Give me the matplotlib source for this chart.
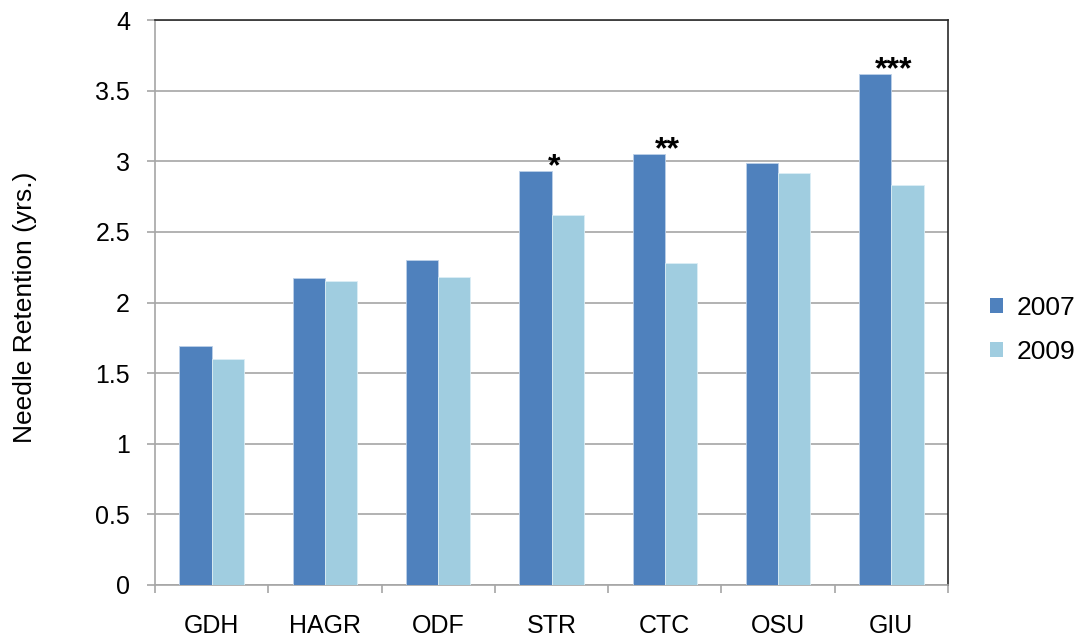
import numpy as np
import matplotlib.pyplot as plt
from matplotlib.patches import Patch

plt.rcParams['font.family'] = ['Liberation Sans', 'DejaVu Sans']

# needle retention by site, two survey years
sites = ['GDH', 'HAGR', 'ODF', 'STR', 'CTC', 'OSU', 'GIU']
ret_2007 = [1.69, 2.17, 2.30, 2.93, 3.05, 2.99, 3.62]
ret_2009 = [1.60, 2.15, 2.18, 2.62, 2.28, 2.92, 2.83]
signif = ['', '', '', '*', '**', '', '***']

c07 = '#4F81BD'
c09 = '#A0CDE0'

fig = plt.figure(figsize=(10.77, 6.38), dpi=100)
ax = fig.add_axes([155 / 1077, 1 - 585 / 638, 793 / 1077, 565 / 638])

x = np.arange(len(sites))
w = 0.284
ax.bar(x - w / 2, ret_2007, w, color=c07, edgecolor='#BCD0E8', linewidth=0.6, zorder=3)
ax.bar(x + w / 2, ret_2009, w, color=c09, edgecolor='#DCEEF5', linewidth=0.6, zorder=3)

# significance stars over the 2007 bars
for xi, v, s in zip(x, ret_2007, signif):
    if s:
        ax.annotate(s, (xi + 0.02, v), xytext=(0, -3), textcoords='offset points',
                    ha='center', va='baseline', fontsize=23, fontweight='bold')

ax.set_xlim(-0.5, len(sites) - 0.5)
ax.set_ylim(0, 4)
ax.set_yticks(np.arange(0, 4.01, 0.5))
ax.set_yticklabels(['0', '0.5', '1', '1.5', '2', '2.5', '3', '3.5', '4'])
ax.yaxis.grid(True, color='#A6A6A6', linewidth=1.2, zorder=0)
ax.set_axisbelow(True)

ax.set_xticks(x)
ax.set_xticklabels(sites)
ax.set_xticks(np.arange(-0.5, len(sites)), minor=True)
ax.tick_params(axis='x', which='major', length=0, pad=21, labelsize=18)
ax.tick_params(axis='x', which='minor', length=6, width=1.2, color='#A6A6A6', direction='out')
ax.tick_params(axis='y', length=6, width=1.2, color='#A6A6A6', direction='out', pad=12, labelsize=18)

for side in ['left', 'bottom']:
    ax.spines[side].set_color('#A6A6A6')
    ax.spines[side].set_linewidth(1.2)
for side in ['top', 'right']:
    ax.spines[side].set_color('#2B2B2B')
    ax.spines[side].set_linewidth(1.2)

fig.text(25 / 1077, 1 - 307 / 638, 'Needle Retention (yrs.)', rotation=90,
         ha='center', va='center', fontsize=19)

handles = [Patch(facecolor=c07, edgecolor='none'), Patch(facecolor=c09, edgecolor='none')]
fig.legend(handles, ['2007', '2009'], loc='center left',
           bbox_to_anchor=(990 / 1077, 1 - 330 / 638), frameon=False, fontsize=19,
           borderpad=0, handlelength=0.5, handleheight=0.5, handletextpad=0.5,
           labelspacing=0.75, borderaxespad=0)

fig.savefig('out.png', dpi=100)
